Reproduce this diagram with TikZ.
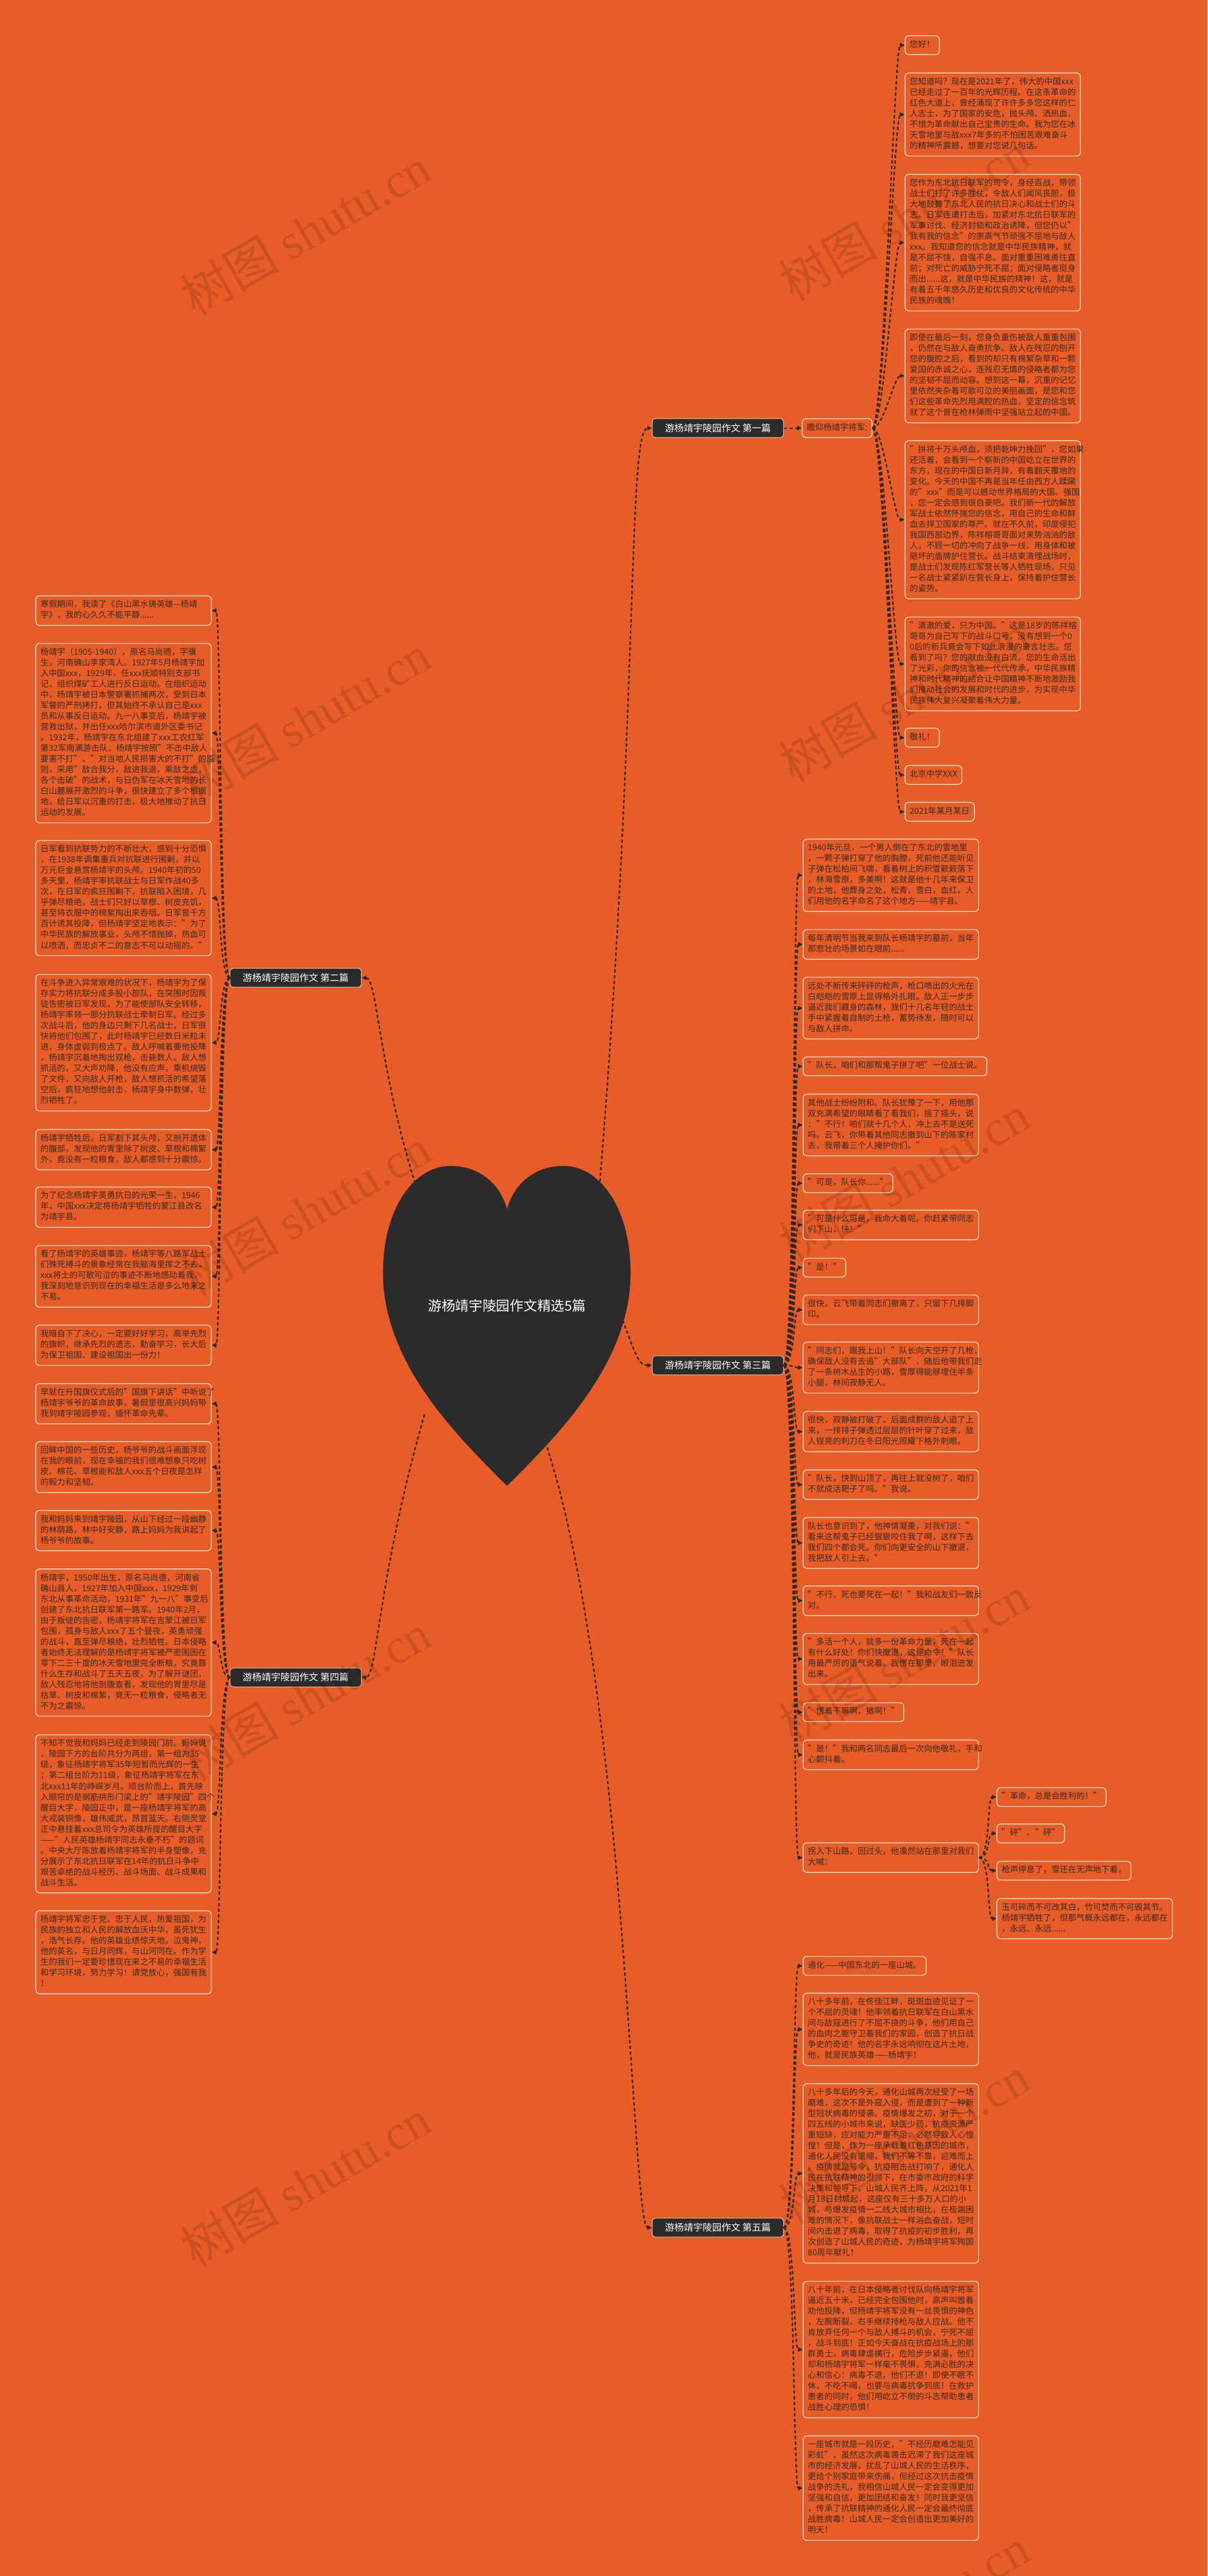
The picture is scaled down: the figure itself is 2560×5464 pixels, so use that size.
\documentclass[tikz,border=0pt]{standalone}
\usepackage{fontspec}
\setmainfont{Noto Sans CJK SC}
\newfontfamily\wmlat{Liberation Serif}
\usetikzlibrary{arrows.meta}
\definecolor{bg}{HTML}{E85D27}
\definecolor{boxline}{HTML}{FCE6D6}
\definecolor{txt}{HTML}{3A2A22}
\definecolor{linec}{HTML}{2E2926}
\definecolor{dark}{HTML}{2B2B2B}
\newcommand{\bodyfont}{\fontsize{17.6pt}{22.7pt}\selectfont}
\tikzset{
  box/.style={draw=boxline, line width=1.6pt, rounded corners=8pt, fill=bg, text=txt,
    font=\bodyfont, inner xsep=10pt, inner ysep=8.65pt, align=left, anchor=north west,
    execute at begin node=\strut, execute at end node=\strut},
  para/.style={box, text width=352pt},
  conn/.style={draw=linec, line width=3pt, dash pattern=on 7pt off 5pt,
    -{Triangle[length=10pt,width=9pt]}},
  branch/.style={fill=dark, draw=boxline, line width=1pt, rounded corners=6pt, text=white,
    font=\fontsize{20pt}{24pt}\selectfont, minimum width=278pt, minimum height=40pt, inner sep=4pt},
  wm/.style={text=black, text opacity=0.12, font=\fontsize{105pt}{110pt}\selectfont, rotate=30},
}
\begin{document}
\begin{tikzpicture}[x=1pt,y=-1pt]
\useasboundingbox (0,0) rectangle (2560,5464);
\fill[bg] (0,0) rectangle (2560,5464);

% ---------- root heart ----------
\fill[dark] (1075,3152) .. controls (985,3060) and (812,2900) .. (812,2700)
  .. controls (812,2560) and (880,2473) .. (955,2473)
  .. controls (1020,2473) and (1062,2515) .. (1075,2565)
  .. controls (1088,2515) and (1130,2473) .. (1195,2473)
  .. controls (1270,2473) and (1337,2560) .. (1337,2700)
  .. controls (1337,2900) and (1165,3060) .. (1075,3152) -- cycle;
\node[text=white, font=\fontsize{29pt}{33pt}\selectfont] (root) at (1075,2770) {游杨靖宇陵园作文精选5篇};
\coordinate (h1) at (1270,2530);
\coordinate (h2) at (880,2510);
\coordinate (h3) at (1320,2800);
\coordinate (h4) at (900,3000);
\coordinate (h5) at (1160,3070);

% ---------- branches ----------
\node[branch] (B1) at (1522,908) {游杨靖宇陵园作文 第一篇};
\node[branch] (B2) at (627,2074) {游杨靖宇陵园作文 第二篇};
\node[branch] (B3) at (1522,2896) {游杨靖宇陵园作文 第三篇};
\node[branch] (B4) at (627,3558) {游杨靖宇陵园作文 第四篇};
\node[branch] (B5) at (1522,4725) {游杨靖宇陵园作文 第五篇};

\draw[conn] (h1) .. controls (1355,1500) and (1330,908) .. (B1.west);
\draw[conn] (h2) .. controls (800,2250) and (800,2074) .. (B2.east);
\draw[conn] (h3) .. controls (1350,2880) and (1355,2896) .. (B3.west);
\draw[conn] (h4) .. controls (800,3350) and (800,3558) .. (B4.east);
\draw[conn] (h5) .. controls (1330,3600) and (1340,4725) .. (B5.west);

% ---------- 第一篇 ----------
\node[box, anchor=west] (Z) at (1700,908) {瞻仰杨靖宇将军:};
\draw[conn] (B1.east) -- (Z.west);

\node[box] (r1) at (1918,75) {您好！};
\node[para] (r2) at (1918,154) {您知道吗？现在是2021年了，伟大的中国xxx\\已经走过了一百年的光辉历程。在这条革命的\\红色大道上，曾经涌现了许许多多您这样的仁\\人志士，为了国家的安危，抛头颅、洒热血，\\不惜为革命献出自己宝贵的生命。我为您在冰\\天雪地里与敌xxx7年多的不怕困苦艰难奋斗\\的精神所震撼，想要对您说几句话。};
\node[para] (r3) at (1918,369) {您作为东北抗日联军的司令，身经百战，带领\\战士们打了许多胜仗，令敌人们闻风丧胆，极\\大地鼓舞了东北人民的抗日决心和战士们的斗\\志。日军连遭打击后，加紧对东北抗日联军的\\军事讨伐、经济封锁和政治诱降，但您仍以"\\我有我的信念"的崇高气节顽强不屈地与敌人\\xxx。我知道您的信念就是中华民族精神，就\\是不屈不饶，自强不息。面对重重困难勇往直\\前；对死亡的威胁宁死不屈；面对侵略者挺身\\而出......这，就是中华民族的精神！这，就是\\有着五千年悠久历史和优良的文化传统的中华\\民族的魂魄！};
\node[para] (r4) at (1918,697) {即使在最后一刻，您身负重伤被敌人重重包围\\，仍然在与敌人奋勇抗争。敌人在残忍的刨开\\您的腹腔之后，看到的却只有棉絮杂草和一颗\\爱国的赤诚之心，连残忍无情的侵略者都为您\\的坚韧不屈而动容。想到这一幕，沉重的记忆\\里依然夹杂着可歌可泣的美丽画面，是您和您\\们这些革命先烈用满腔的热血，坚定的信念筑\\就了这个曾在枪林弹雨中坚强站立起的中国。};
\node[para] (r5) at (1918,934) {"拼将十万头颅血，须把乾坤力挽回"，您如果\\还活着，会看到一个崭新的中国屹立在世界的\\东方，现在的中国日新月异，有着翻天覆地的\\变化。今天的中国不再是当年任由西方人蹂躏\\的"xxx"而是可以撼动世界格局的大国、强国\\，您一定会感到很自豪吧。我们新一代的解放\\军战士依然怀揣您的信念，用自己的生命和鲜\\血去捍卫国家的尊严。就在不久前，印度侵犯\\我国西部边界，陈祥榕哥哥面对来势汹汹的敌\\人，不顾一切的冲向了战争一线，用身体和被\\砸坏的盾牌护住营长。战斗结束清理战场时，\\是战士们发现陈红军营长等人牺牲现场，只见\\一名战士紧紧趴在营长身上，保持着护住营长\\的姿势。};
\node[para] (r6) at (1918,1308) {"清澈的爱，只为中国。"这是18岁的陈祥榕\\哥哥为自己写下的战斗口号，没有想到一个0\\0后的新兵竟会写下如此浪漫的豪言壮志。您\\看到了吗？您的献血没有白流，您的生命活出\\了光彩，你的信念被一代代传承，中华民族精\\神和时代精神的结合让中国精神不断地激励我\\们推动社会的发展和时代的进步，为实现中华\\民族伟大复兴凝聚着伟大力量。};
\node[box] (r7) at (1918,1544) {敬礼！};
\node[box] (r8) at (1918,1623) {北京中学XXX};
\node[box] (r9) at (1918,1701) {2021年某月某日};
\foreach \c in {r1,r2,r3,r4,r5,r6,r7,r8,r9}
  \draw[conn] (Z.east) .. controls +(24,0) and +(-22,0) .. (\c.west);

% ---------- 第二篇 ----------
\node[para] (l1) at (75,1263) {寒假期间，我读了《白山黑水铸英雄—杨靖\\宇》，我的心久久不能平静......};
\node[para] (l2) at (75,1364) {杨靖宇（1905-1940），原名马尚德，字骥\\生，河南确山李家湾人。1927年5月杨靖宇加\\入中国xxx，1929年，任xxx抚顺特别支部书\\记，组织煤矿工人进行反日运动。在组织运动\\中，杨靖宇被日本警察署抓捕两次，受到日本\\军警的严刑拷打，但其始终不承认自己是xxx\\员和从事反日运动。九一八事变后，杨靖宇被\\营救出狱，并出任xxx哈尔滨市道外区委书记\\。1932年，杨靖宇在东北组建了xxx工农红军\\第32军南满游击队，杨靖宇按照"不击中敌人\\要害不打"、"对当地人民损害大的不打"的原\\则，采用"敌合我分，敌进我退，乘敌之虚，\\各个击破"的战术，与日伪军在冰天雪地的长\\白山麓展开激烈的斗争，很快建立了多个根据\\地，给日军以沉重的打击，极大地推动了抗日\\运动的发展。};
\node[para] (l3) at (75,1782) {日军看到抗联势力的不断壮大，感到十分恐惧\\，在1938年调集重兵对抗联进行围剿，并以\\万元巨金悬赏杨靖宇的头颅。1940年初的50\\多天里，杨靖宇率抗联战士与日军作战40多\\次，在日军的疯狂围剿下，抗联陷入困境，几\\乎弹尽粮绝，战士们只好以草根、树皮充饥，\\甚至将衣服中的棉絮掏出来吞咽。日军曾千方\\百计诱其投降，但杨靖宇坚定地表示："为了\\中华民族的解放事业，头颅不惜抛掉，热血可\\以喷洒，而忠贞不二的意志不可以动摇的。"};
\node[para] (l4) at (75,2066) {在斗争进入异常艰难的状况下，杨靖宇为了保\\存实力将抗联分成多股小部队，在突围时因叛\\徒告密被日军发现，为了能使部队安全转移，\\杨靖宇率领一部分抗联战士牵制日军。经过多\\次战斗后，他的身边只剩下几名战士，日军很\\快将他们包围了，此时杨靖宇已经数日米粒未\\进，身体虚弱到极点了。敌人呼喊着要他投降\\，杨靖宇沉着地掏出双枪，击毙数人。敌人想\\抓活的，又大声劝降，他没有应声，乘机烧毁\\了文件，又向敌人开枪，敌人想抓活的希望落\\空后，疯狂地想他射击，杨靖宇身中数弹，壮\\烈牺牲了。};
\node[para] (l5) at (75,2395) {杨靖宇牺牲后，日军割下其头颅，又剖开遗体\\的腹部，发现他的胃里除了树皮、草根和棉絮\\外，竟没有一粒粮食，敌人都感到十分震惊。};
\node[para] (l6) at (75,2517) {为了纪念杨靖宇英勇抗日的光荣一生，1946\\年，中国xxx决定将杨靖宇牺牲的蒙江县改名\\为靖宇县。};
\node[para] (l7) at (75,2641) {看了杨靖宇的英雄事迹，杨靖宇等八路军战士\\们殊死搏斗的景象经常在我脑海里挥之不去，\\xxx将士的可歌可泣的事迹不断地感动着我，\\我深刻地意识到现在的幸福生活是多么地来之\\不易。};
\node[para] (l8) at (75,2810) {我暗自下了决心，一定要好好学习，高举先烈\\的旗帜，继承先烈的遗志，勤奋学习，长大后\\为保卫祖国、建设祖国出一份力！};
\foreach \c in {l1,l2,l3,l4,l5,l6,l7,l8}
  \draw[conn] (B2.west) .. controls +(-22,0) and +(20,0) .. (\c.east);

% ---------- 第三篇 ----------
\node[para] (m1) at (1702,1779) {1940年元旦，一个男人倒在了东北的雪地里\\，一颗子弹打穿了他的胸膛，死前他还能听见\\子弹在松柏间飞啸，看着树上的积雪簌簌落下\\，林海雪原，多美啊！这就是他十几年来保卫\\的土地，他葬身之处，松青，雪白，血红，人\\们用他的名字命名了这个地方——靖宇县。};
\node[para] (m2) at (1702,1971) {每年清明节当我来到队长杨靖宇的墓前，当年\\那悲壮的场景如在眼前......};
\node[para] (m3) at (1702,2072) {远处不断传来砰砰的枪声，枪口喷出的火光在\\白皑皑的雪原上显得格外扎眼。敌人正一步步\\逼近我们藏身的森林，我们十几名年轻的战士\\手中紧握着自制的土枪，蓄势待发，随时可以\\与敌人拼命。};
\node[box] (m4) at (1702,2241) {"队长，咱们和那帮鬼子拼了吧"一位战士说。};
\node[para] (m5) at (1702,2320) {其他战士纷纷附和。队长犹豫了一下，用他那\\双充满希望的眼睛看了看我们，摇了摇头，说\\："不行！咱们就十几个人，冲上去不是送死\\吗。云飞，你带着其他同志撤到山下的陈家村\\去，我带着三个人掩护你们。"};
\node[box] (m6) at (1702,2489) {"可是，队长你......"};
\node[para] (m7) at (1702,2566) {"可是什么可是，我命大着呢。你赶紧带同志\\们下山，快！"};
\node[box] (m8) at (1702,2668) {"是！"};
\node[para] (m9) at (1702,2746) {很快，云飞带着同志们撤离了，只留下几排脚\\印。};
\node[para] (m10) at (1702,2846) {"同志们，跟我上山！"队长向天空开了几枪，\\确保敌人没有去追"大部队"，随后他带我们走\\了一条树木丛生的小路，雪厚得能够埋住半条\\小腿，林间寂静无人。};
\node[para] (m11) at (1702,2993) {很快，寂静被打破了，后面成群的敌人追了上\\来，一排排子弹透过层层的针叶穿了过来，敌\\人锃亮的刺刀在冬日阳光照耀下格外刺眼。};
\node[para] (m12) at (1702,3117) {"队长，快到山顶了，再往上就没树了，咱们\\不就成活靶子了吗。"我说。};
\node[para] (m13) at (1702,3218) {队长也意识到了，他神情凝重，对我们说："\\看来这帮鬼子已经狠狠咬住我了啊，这样下去\\我们四个都会死。你们向更安全的山下撤退，\\我把敌人引上去。"};
\node[para] (m14) at (1702,3363) {"不行，死也要死在一起！"我和战友们一致反\\对。};
\node[para] (m15) at (1702,3464) {"多活一个人，就多一份革命力量，死在一起\\有什么好处！你们快撤退，这是命令！"队长\\用最严厉的语气说着。我愣在那里，眼泪迸发\\出来。};
\node[box] (m16) at (1702,3611) {"愣着干嘛啊，撤啊！"};
\node[para] (m17) at (1702,3690) {"是！"我和两名同志最后一次向他敬礼，手和\\心颤抖着。};
\node[para] (m18) at (1702,3908) {拐入下山路，回过头，他凛然站在那里对我们\\大喊：};
\foreach \c in {m1,m2,m3,m4,m5,m6,m7,m8,m9,m10,m11,m12,m13,m14,m15,m16,m17,m18}
  \draw[conn] (B3.east) .. controls +(24,0) and +(-20,0) .. (\c.west);

\node[box] (n1) at (2113,3791) {"革命，总是会胜利的！"};
\node[box] (n2) at (2113,3868) {"砰"、"砰"};
\node[box] (n3) at (2113,3947) {枪声停息了，雪还在无声地下着。};
\node[para] (n4) at (2113,4026) {玉可碎而不可改其白，竹可焚而不可毁其节。\\杨靖宇牺牲了，但那气概永远都在，永远都在\\，永远、永远......};
\foreach \c in {n1,n2,n3,n4}
  \draw[conn] (m18.east) .. controls +(24,0) and +(-20,0) .. (\c.west);

% ---------- 第四篇 ----------
\node[para] (k1) at (75,2934) {早就在升国旗仪式后的"国旗下讲话"中听说了\\杨靖宇爷爷的革命故事，暑假里很高兴妈妈带\\我到靖宇陵园参观，缅怀革命先辈。};
\node[para] (k2) at (75,3057) {回眸中国的一些历史，杨爷爷的战斗画面浮现\\在我的眼前，现在幸福的我们很难想象只吃树\\皮、棉花、草根能和敌人xxx五个日夜是怎样\\的毅力和坚韧。};
\node[para] (k3) at (75,3203) {我和妈妈来到靖宇陵园，从山下经过一段幽静\\的林荫路，林中好安静，路上妈妈为我讲起了\\杨爷爷的故事。};
\node[para] (k4) at (75,3327) {杨靖宇，1950年出生，原名马尚德，河南省\\确山县人，1927年加入中国xxx，1929年到\\东北从事革命活动，1931年"九一八"事变后\\创建了东北抗日联军第一路军。1940年2月，\\由于叛徒的告密，杨靖宇将军在吉蒙江被日军\\包围，孤身与敌人xxx了五个昼夜，英勇顽强\\的战斗，直至弹尽粮绝，壮烈牺牲。日本侵略\\者始终无法理解的是杨靖宇将军被严密围困在\\零下二三十度的冰天雪地里完全断粮，究竟靠\\什么生存和战斗了五天五夜，为了解开谜团，\\敌人残忍地将他剖腹查看，发现他的胃里尽是\\枯草、树皮和棉絮，竟无一粒粮食，侵略者无\\不为之震惊。};
\node[para] (k5) at (75,3679) {不知不觉我和妈妈已经走到陵园门前。妈妈说\\，陵园下方的台阶共分为两组，第一组为35\\级，象征杨靖宇将军35年短暂而光辉的一生\\；第二组台阶为11级，象征杨靖宇将军在东\\北xxx11年的峥嵘岁月。顺台阶而上，首先映\\入眼帘的是钢筋拱形门梁上的"靖宇陵园"四个\\醒目大字，陵园正中，是一座杨靖宇将军的高\\大戎装铜像，雄伟威武，昂首蓝天。右侧灵堂\\正中悬挂着xxx总司令为英雄所提的醒目大字\\——"人民英雄杨靖宇同志永垂不朽"的题词\\。中央大厅陈放着杨靖宇将军的半身塑像，充\\分展示了东北抗日联军在14年的抗日斗争中\\艰苦卓绝的战斗经历、战斗场面、战斗成果和\\战斗生活。};
\node[para] (k6) at (75,4052) {杨靖宇将军忠于党，忠于人民，热爱祖国，为\\民族的独立和人民的解放血沃中华，虽死犹生\\，浩气长存。他的英雄业绩惊天地，泣鬼神，\\他的英名，与日月同辉，与山河同在。作为学\\生的我们一定要珍惜现在来之不易的幸福生活\\和学习环境，努力学习！请党放心，强国有我\\！};
\foreach \c in {k1,k2,k3,k4,k5,k6}
  \draw[conn] (B4.west) .. controls +(-22,0) and +(20,0) .. (\c.east);

% ---------- 第五篇 ----------
\node[box] (f1) at (1702,4149) {通化——中国东北的一座山城。};
\node[para] (f2) at (1702,4227) {八十多年前，在佟佳江畔，斑斑血迹见证了一\\个不屈的灵魂！他率领着抗日联军在白山黑水\\间与敌寇进行了不屈不挠的斗争，他们用自己\\的血肉之躯守卫着我们的家园，创造了抗日战\\争史的奇迹！他的名字永远响彻在这片土地，\\他，就是民族英雄——杨靖宇！};
\node[para] (f3) at (1702,4419) {八十多年后的今天，通化山城再次经受了一场\\磨难，这次不是外寇入侵，而是遭到了一种新\\型冠状病毒的侵袭。疫情爆发之初，对于一个\\四五线的小城市来说，缺医少药，抗疫资源严\\重短缺，应对能力严重不足，必然导致人心惶\\惶！但是，作为一座承载着红色基因的城市，\\通化人民没有退缩，我们不等不靠，迎难而上\\。疫情就是号令，抗疫阻击战打响了，通化人\\民在抗联精神的引领下，在市委市政府的科学\\决策和领导下，山城人民齐上阵，从2021年1\\月18日封城起，这座仅有三十多万人口的小\\城，与爆发疫情一二线大城市相比，在极端困\\难的情况下，像抗联战士一样浴血奋战，短时\\间内击退了病毒，取得了抗疫的初步胜利，再\\次创造了山城人民的奇迹，为杨靖宇将军殉国\\80周年献礼！};
\node[para] (f4) at (1702,4838) {八十年前，在日本侵略者讨伐队向杨靖宇将军\\逼近五十米，已经完全包围他时，高声叫嚣着\\劝他投降，但杨靖宇将军没有一丝畏惧的神色\\，左腕断裂，右手继续持枪与敌人应战。他不\\肯放弃任何一个与敌人搏斗的机会，宁死不屈\\，战斗到底！正如今天奋战在抗疫战场上的那\\群勇士，病毒肆虐横行，危险步步紧逼，他们\\却和杨靖宇将军一样毫不畏惧，充满必胜的决\\心和信心：病毒不退，他们不退！即使不眠不\\休，不吃不喝，也要与病毒抗争到底！在救护\\患者的同时，他们用屹立不倒的斗志帮助患者\\战胜心理的恐惧！};
\node[para] (f5) at (1702,5166) {一座城市就是一段历史，"不经历磨难怎能见\\彩虹"，虽然这次病毒袭击迟滞了我们这座城\\市的经济发展，扰乱了山城人民的生活秩序，\\更给个别家庭带来伤痛，但经过这次抗击疫情\\战争的洗礼，我相信山城人民一定会变得更加\\坚强和自信，更加团结和奋发！同时我更坚信\\，传承了抗联精神的通化人民一定会最终彻底\\战胜病毒！山城人民一定会创造出更加美好的\\明天！};
\foreach \c in {f1,f2,f3,f4,f5}
  \draw[conn] (B5.east) .. controls +(24,0) and +(-20,0) .. (\c.west);

% ---------- watermarks ----------
\foreach \i/\x/\y in {1/648/490, 2/648/1525, 3/648/2570, 4/648/3600, 5/648/4630,
                      6/1917/460, 7/1917/1480, 8/1917/2500, 9/1917/3520, 10/1917/4540, 11/1917/5540}
  \node[wm] (wm\i) at (\x,\y) {树图 {\wmlat shutu.cn}};
\end{tikzpicture}
\end{document}
